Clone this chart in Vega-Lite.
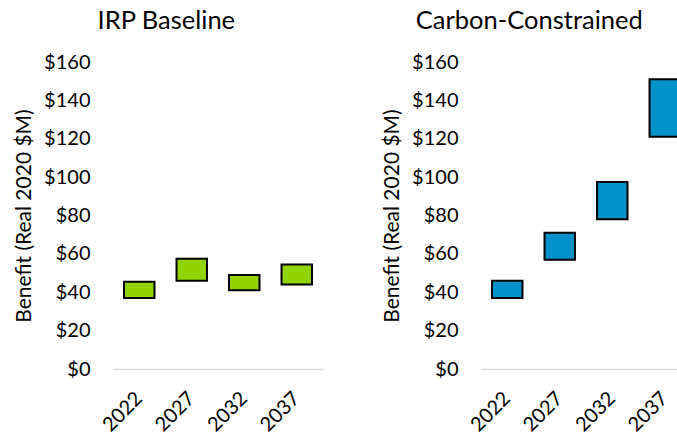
{
  "$schema": "https://vega.github.io/schema/vega-lite/v6.json",
  "padding": {"left": 13, "top": 8, "right": 0, "bottom": 0},
  "background": "white",
  "datasets": {
    "baseline": [
      {"year": "2022", "low": 37, "high": 45.5},
      {"year": "2027", "low": 46, "high": 57.5},
      {"year": "2032", "low": 41, "high": 49},
      {"year": "2037", "low": 44, "high": 54.5}
    ],
    "carbon": [
      {"year": "2022", "low": 37, "high": 46},
      {"year": "2027", "low": 57, "high": 71},
      {"year": "2032", "low": 78, "high": 97.5},
      {"year": "2037", "low": 121, "high": 151}
    ]
  },
  "config": {
    "font": "Lato",
    "view": {"stroke": null},
    "concat": {"spacing": 58},
    "title": {"fontSize": 25.5, "fontWeight": "normal", "color": "#000000", "font": "Lato", "anchor": "middle", "frame": "bounds", "offset": 18},
    "axis": {"labelFont": "Lato", "titleFont": "Lato", "labelColor": "#000000", "titleColor": "#000000", "labelFontSize": 20, "titleFontSize": 21, "titleFontWeight": "normal", "ticks": false, "domain": false}
  },
  "hconcat": [
    {
      "title": {"text": "IRP Baseline", "dx": -2},
      "data": {"name": "baseline"},
      "width": 210,
      "height": 307,
      "mark": {"type": "bar", "fill": "#92D400", "stroke": "#000000", "strokeWidth": 2},
      "encoding": {
        "x": {"field": "year", "type": "ordinal", "title": null,
              "scale": {"paddingInner": 0.42, "paddingOuter": 0.21},
              "axis": {"labelAngle": -45, "labelPadding": 19, "labelOffset": -7}},
        "y": {"field": "low", "type": "quantitative", "title": "Benefit (Real 2020 $M)",
              "scale": {"domain": [0, 160], "nice": false},
              "axis": {"values": [0, 20, 40, 60, 80, 100, 120, 140, 160], "format": "$,.0f", "labelPadding": 23, "titlePadding": 9,
                       "grid": true, "gridColor": {"condition": {"test": "datum.value === 0", "value": "#d9d9d9"}, "value": "transparent"}, "gridWidth": 1.5}},
        "y2": {"field": "high"}
      }
    },
    {
      "title": {"text": "Carbon-Constrained", "dx": -7},
      "data": {"name": "carbon"},
      "width": 198,
      "height": 307,
      "mark": {"type": "bar", "fill": "#0092C8", "stroke": "#000000", "strokeWidth": 2, "clip": true},
      "encoding": {
        "x": {"field": "year", "type": "ordinal", "title": null,
              "scale": {"range": [0, 210], "paddingInner": 0.42, "paddingOuter": 0.21},
              "axis": {"labelAngle": -45, "labelPadding": 19, "labelOffset": -7}},
        "y": {"field": "low", "type": "quantitative", "title": "Benefit (Real 2020 $M)",
              "scale": {"domain": [0, 160], "nice": false},
              "axis": {"values": [0, 20, 40, 60, 80, 100, 120, 140, 160], "format": "$,.0f", "labelPadding": 23, "titlePadding": 9,
                       "grid": true, "gridColor": {"condition": {"test": "datum.value === 0", "value": "#d9d9d9"}, "value": "transparent"}, "gridWidth": 1.5}},
        "y2": {"field": "high"}
      }
    }
  ]
}
